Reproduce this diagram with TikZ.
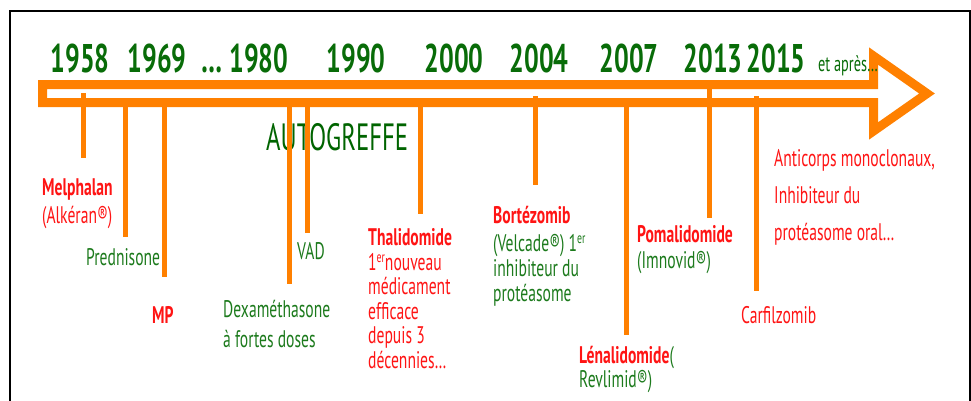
\documentclass[tikz,border=0pt]{standalone}
\usepackage{fontspec}
\setmainfont[FakeStretch=0.65]{PT Sans}
\usepackage{tikz}
\usetikzlibrary{positioning}
\definecolor{timeorange}{RGB}{255,128,0}
\definecolor{yeargreen}{RGB}{8,108,8}
\definecolor{drawgreen}{RGB}{0,100,0}
\definecolor{druggreen}{RGB}{28,122,28}
\definecolor{drugred}{RGB}{255,20,20}
\newcommand{\supr}[1]{\raisebox{0.3em}{\fontsize{15}{15}\selectfont #1}}

\begin{document}
\begin{tikzpicture}[x=1pt, y=-1pt,
	year/.style={text=yeargreen, font=\fontsize{40}{44}\selectfont\bfseries, anchor=base, inner sep=0pt},
	drug/.style={font=\fontsize{24}{24.5}\selectfont, anchor=base west, inner sep=0pt, align=left},
	redbold/.style={drug, text=drugred, font=\fontsize{24}{24.5}\selectfont\bfseries},
	tick/.style={draw=timeorange, line width=5pt}]
	\useasboundingbox (0,0) rectangle (971,400);
	% frame
	\draw[line width=2pt] (9.5,401) -- (9.5,10.5) -- (970,10.5) -- (970,401);
	
	% hollow arrow
	\draw[timeorange, line width=9pt, miter limit=4] (42.5,84.5) -- (873.5,84.5) -- (873.5,56) -- (927,93.5) -- (873.5,131) -- (873.5,102.5) -- (42.5,102.5) -- cycle;
	
	% years
	\foreach \yr/\x in {1958/80, 1969/157, {\dots\ 1980}/245, 1990/356, 2000/454, 2004/539, 2007/629, 2013/713, 2015/776}
		\node[year] at (\x,72) {\yr};
	\node[anchor=base west, inner sep=0pt, text=yeargreen, font=\fontsize{22}{24}\selectfont] (apres) at (818,71) {et après\dots};
	
	\node[anchor=base west, inner sep=0pt, text=drawgreen, font=\fontsize{38}{40}\selectfont] (autogreffe) at (266,150) {AUTOGREFFE};
	
	% ticks
	\foreach \nm/\x/\ya/\yb in {melph/83/93/158, pred/125/107/237, mp/164/107/277, dexa/289/107/284, vad/307/107/233, thal/420/107/214, bort/535/96/185, lena/626/107/335, poma/709/88/218, carf/756/96/291}
	{
		\coordinate (\nm-top) at (\x,\ya);
		\coordinate (\nm-end) at (\x,\yb);
		\draw[tick] (\nm-top) -- (\nm-end);
	}
	
	% drugs (multi-line nodes sit on their last line)
	\node[redbold] (melphalan) at (42,195) {Melphalan};
	\node[drug, text=drugred] (alkeran) at (42,223) {(Alkéran®)};
	\node[drug, text=druggreen] (prednisone) at (86,265) {Prednisone};
	\node[redbold] (mpnode) at (152,323) {MP};
	\node[drug, text=druggreen, font=\fontsize{24}{30}\selectfont] (dexa) at (223,347) {Dexaméthasone\\à fortes doses};
	\node[drug, text=druggreen] (vadnode) at (297,259) {VAD};
	\node[redbold] (thalidomide) at (368,245) {Thalidomide};
	\node[drug, text=drugred] (thaltext) at (368,368) {1\supr{er}nouveau\\médicament\\efficace\\depuis 3\\décennies\dots};
	\node[redbold] (bortezomib) at (493,223) {Bortézomib};
	\node[drug, text=druggreen, font=\fontsize{24}{25}\selectfont] (velcade) at (493,301) {(Velcade®) 1\supr{er}\\inhibiteur du\\protéasome};
	\node[redbold] (pomalidomide) at (637,242) {Pomalidomide};
	\node[drug, text=druggreen] (imnovid) at (637,268) {(Imnovid®)};
	\node[drug] (lenalidomide) at (579,363) {\textcolor{drugred}{\bfseries Lénalidomide}\textcolor{druggreen}{(}};
	\node[drug, text=druggreen] (revlimid) at (579,387) {Revlimid®)};
	\node[drug, text=drugred] (carfilzomib) at (741,323) {Carfilzomib};
	\node[drug, text=drugred, font=\fontsize{24}{37}\selectfont] (anticorps) at (774,240) {Anticorps monoclonaux,\\Inhibiteur du\\protéasome oral\dots};
\end{tikzpicture}
\end{document}
